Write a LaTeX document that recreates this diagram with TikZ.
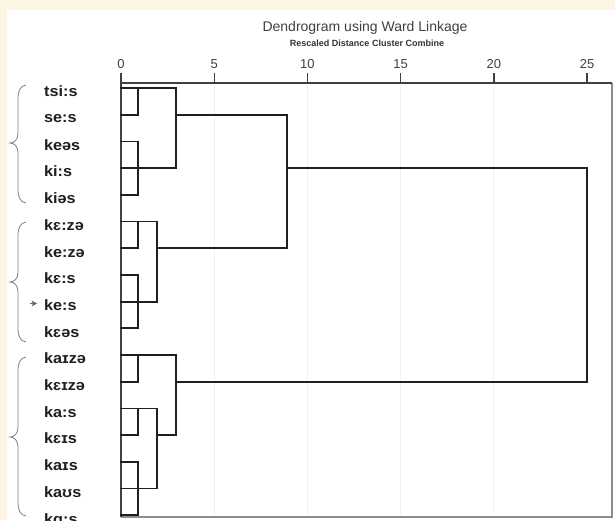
\documentclass[tikz,border=0pt]{standalone}
\usepackage{fontspec}
\setmainfont{Liberation Sans}
\newfontfamily\leaffont{Liberation Sans}[FakeStretch=1.08]
\definecolor{cream}{RGB}{253,245,228}
\begin{document}
\begin{tikzpicture}[x=1pt,y=-1pt,
  dline/.style={line width=1.8pt, draw=black!88, line cap=rect},
  axisline/.style={line width=1.4pt, draw=black!75},
  frameline/.style={line width=1.1pt, draw=black!45},
  gridline/.style={line width=1pt, draw=black!6},
  tickline/.style={line width=1.4pt, draw=black!75},
  bracestyle/.style={line width=0.8pt, draw=black!50},
  leaf/.style={anchor=west, inner sep=0pt, text=black!88, font=\leaffont\bfseries\fontsize{15}{15}\selectfont},
  ticklab/.style={inner sep=0pt, text=black!75, font=\fontsize{13}{13}\selectfont},
  titlelab/.style={inner sep=0pt, text=black!75, font=\fontsize{14}{14}\selectfont},
  sublab/.style={inner sep=0pt, text=black!80, font=\bfseries\fontsize{9}{9}\selectfont}]
\useasboundingbox (0,0) rectangle (615,520);
\fill[cream] (0,0) rectangle (615,520);
\fill[white] (7,10) rectangle (615,520);
% faint grid
\foreach \v in {5,10,15,20}{
  \draw[gridline] ({121+\v*18.64},86) -- ({121+\v*18.64},515);
}
% titles
\node[titlelab] (title) at (365,28) {Dendrogram using Ward Linkage};
\node[sublab] (subtitle) at (367,43) {Rescaled Distance Cluster Combine};
% axis ticks
\foreach \v in {0,5,10,15,20,25}{
  \draw[tickline] ({121+\v*18.64},73) -- ({121+\v*18.64},83);
  \node[ticklab] (t\v) at ({121+\v*18.64},64) {\v};
}
% frame
\draw[frameline] (612,83) -- (612,517) -- (121,517);
\draw[axisline] (121,517) -- (121,83) -- (612,83);
% leaf labels
\foreach \t [count=\i from 0] in {tsi:s,se:s,keəs,ki:s,kiəs,kɛ:zə,ke:zə,kɛ:s,ke:s,kɛəs,kaɪzə,kɛɪzə,ka:s,kɛɪs,kaɪs,kaʊs,kɑ:s}{
  \node[leaf] (lab\i) at (44,{91.5+26.7*\i}) {\t};
}
% dendrogram
\draw[dline] (121,88) -- (176,88);
\draw[dline] (138,88) -- (138,114.7) -- (121,114.7);
\draw[dline] (176,88) -- (176,168.1) -- (121,168.1);
\draw[dline] (176,114.7) -- (287,114.7) -- (287,248.2) -- (157,248.2);
\draw[dline] (121,141.4) -- (138,141.4) -- (138,194.8) -- (121,194.8);
\draw[dline] (287,168.1) -- (587,168.1) -- (587,381.7) -- (176,381.7);
\draw[dline] (121,221.5) -- (157,221.5) -- (157,301.6) -- (121,301.6);
\draw[dline] (138,221.5) -- (138,248.2) -- (121,248.2);
\draw[dline] (121,274.9) -- (138,274.9) -- (138,328.3) -- (121,328.3);
\draw[dline] (121,355) -- (176,355) -- (176,435.1) -- (157,435.1);
\draw[dline] (138,355) -- (138,381.7) -- (121,381.7);
\draw[dline] (121,408.4) -- (157,408.4) -- (157,488.5) -- (121,488.5);
\draw[dline] (138,408.4) -- (138,435.1) -- (121,435.1);
\draw[dline] (121,461.8) -- (138,461.8) -- (138,515.2) -- (121,515.2);
% braces
\newcommand\dbrace[3]{%
  \draw[bracestyle] (26,#1) .. controls (20,#1+1) and (18,#1+6) .. (18,#1+14)
    -- (18,#3-10) .. controls (18,#3-3) and (14,#3) .. (10,#3)
    .. controls (14,#3) and (18,#3+3) .. (18,#3+10)
    -- (18,#2-14) .. controls (18,#2-6) and (20,#2-1) .. (26,#2);}
\dbrace{85}{203}{143}
\dbrace{222}{342}{282}
\dbrace{357}{516}{437}
% small pointer
\draw[black!60, line width=0.8pt] (30,303.5) -- (33,303.5);
\fill[black!60] (31.5,300.5) -- (37,303.5) -- (31.5,306.5) -- (33,303.5) -- cycle;
\end{tikzpicture}
\end{document}
